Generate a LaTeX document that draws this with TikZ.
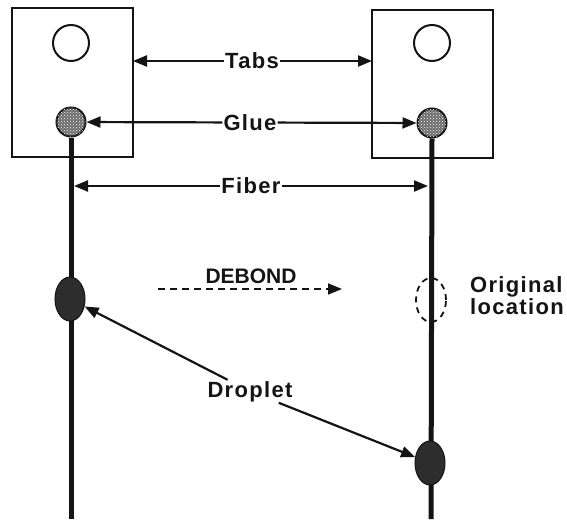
\documentclass[tikz,border=0pt]{standalone}
\usepackage{fontspec}
\setmainfont{Liberation Sans}[LetterSpace=6]
\usepackage{tikz}
\usetikzlibrary{arrows.meta,shapes.geometric,patterns}
\definecolor{inkBlack}{RGB}{20,20,20}
\definecolor{dropGray}{RGB}{45,45,45}

\tikzset{
  tabbox/.style={draw=inkBlack, line width=2pt},
  hole/.style={circle, draw=inkBlack, line width=2pt, minimum size=36pt, inner sep=0pt},
  gluedot/.style={circle, draw=inkBlack, line width=2pt, minimum size=29pt, inner sep=0pt,
    fill=dropGray!70, postaction={pattern=crosshatch dots, pattern color=white}},
  drop/.style={ellipse, fill=dropGray, draw=inkBlack, line width=1pt, minimum width=30pt, minimum height=44pt, inner sep=0pt},
  ghost/.style={ellipse, draw=inkBlack, line width=1.8pt, dash pattern=on 6pt off 5pt, minimum width=30pt, minimum height=44pt, inner sep=0pt},
  fiber/.style={draw=inkBlack, line width=5pt},
  lbl/.style={font=\bfseries\fontsize{22}{22}\selectfont, text=inkBlack, inner sep=1pt},
  pointer/.style={draw=inkBlack, line width=2.2pt, -{Triangle[length=14pt,width=11pt]}},
}

\begin{document}
\begin{tikzpicture}[x=1pt, y=-1pt]
\useasboundingbox (0,0) rectangle (567,519);

% tabs
\draw[tabbox] (12,8) rectangle (133,157);
\draw[tabbox] (372,10) rectangle (493,158);
\node[hole] (holeL) at (71,43) {};
\node[hole] (holeR) at (432,43) {};

% fibers
\coordinate (endL) at (71,519);
\coordinate (endR) at (431,519);
\node[gluedot] (glueL) at (71,122) {};
\node[gluedot] (glueR) at (432,123) {};
\draw[fiber] (glueL.south) -- (endL);
\draw[fiber] (glueR.south) -- (endR);

% droplets
\node[drop] (dropL) at (70,299) {};
\node[drop] (dropR) at (430,463) {};
\node[ghost] (origin) at (431,300) {};

% labels
\node[lbl] (tabs) at (252,61) {Tabs};
\node[lbl] (glue) at (250,122.5) {Glue};
\node[lbl] (fib) at (251,186) {Fiber};
\node[lbl, anchor=base] (droplet) at (250,397) {Droplet};
\node[lbl, font=\bfseries\fontsize{21}{21}\addfontfeatures{LetterSpace=0}\selectfont] (debond) at (251,276) {DEBOND};
\node[lbl, align=left, anchor=north west] (orig) at (469,275) {Original\\location};

\coordinate (tabL) at (133,61);
\coordinate (tabR) at (372,61);
\coordinate (fibL) at (74,186);
\coordinate (fibR) at (428,186);
\coordinate (debS) at (158,289);
\coordinate (debE) at (342,289);

\draw[pointer] (tabs) -- (tabL);
\draw[pointer] (tabs) -- (tabR);
\draw[pointer] (glue) -- (glueL);
\draw[pointer] (glue) -- (glueR);
\draw[pointer] (fib) -- (fibL);
\draw[pointer] (fib) -- (fibR);
\draw[pointer, line width=1.7pt, dash pattern=on 7pt off 5pt] (debS) -- (debE);
\draw[pointer] (droplet) -- (dropL);
\draw[pointer] (droplet) -- (dropR);
\end{tikzpicture}
\end{document}
